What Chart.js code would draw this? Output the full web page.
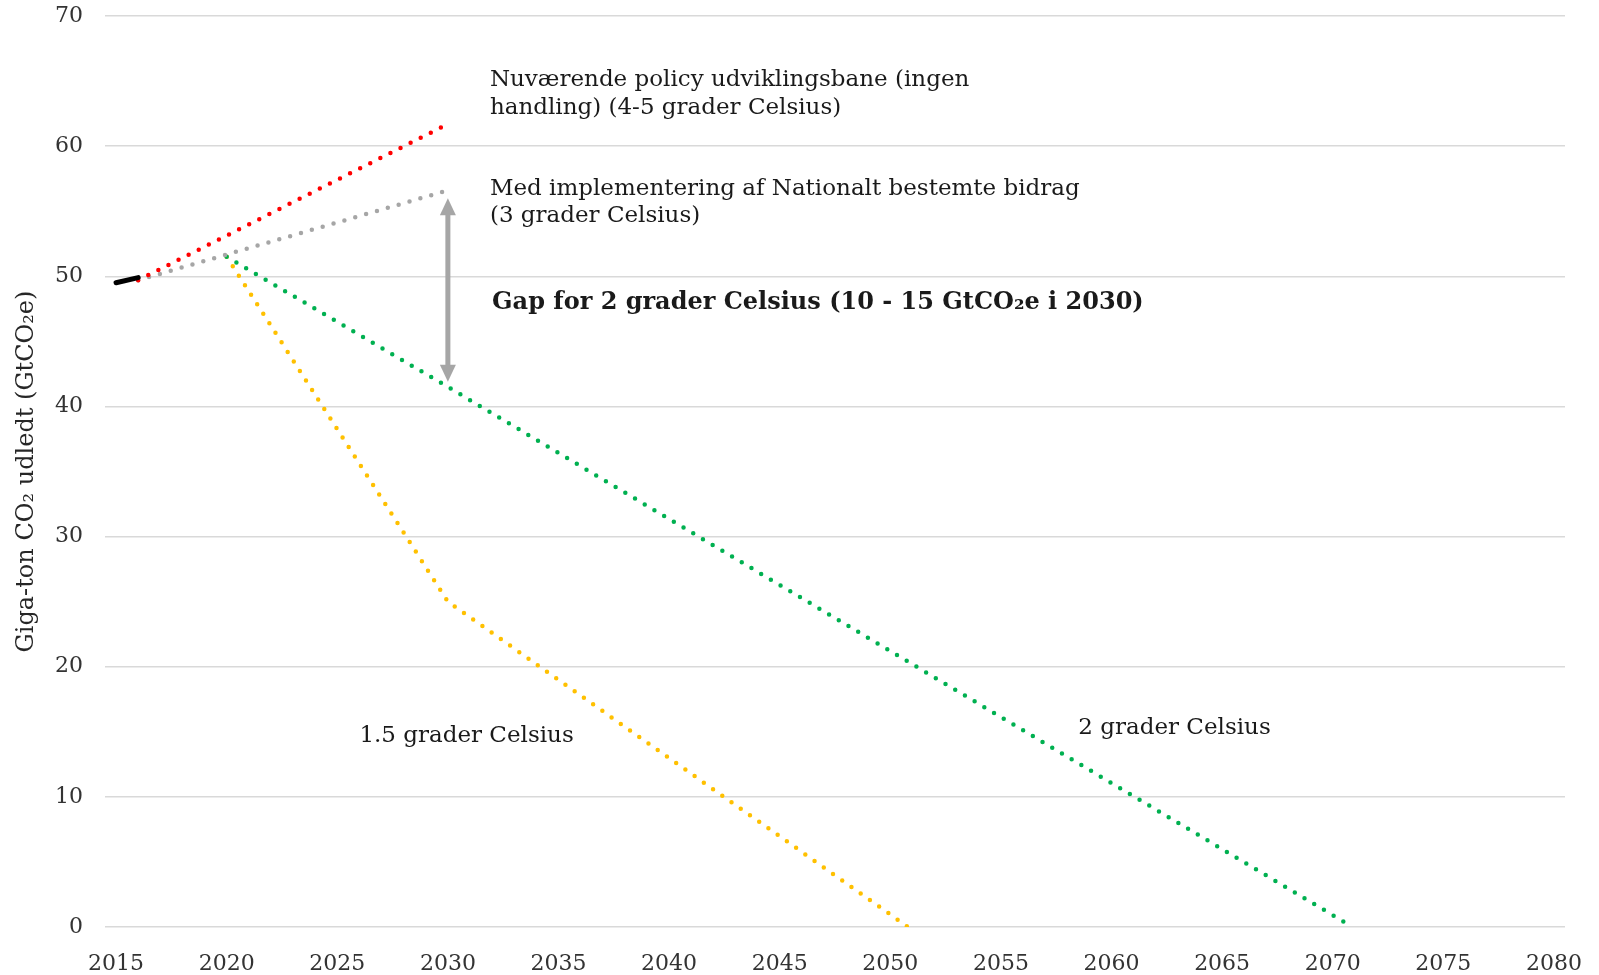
<!DOCTYPE html>
<html>
<head>
<meta charset="utf-8">
<script src="https://cdn.jsdelivr.net/npm/chart.js@4.4.1/dist/chart.umd.min.js"></script>
<style>
  body { margin: 0; background: #fff; }
  #wrap { width: 1599px; height: 975px; }
</style>
</head>
<body>
<div id="wrap"><canvas id="chart" width="1599" height="975"></canvas></div>
<script>
// series (year, GtCO2e)
const historyYears = [2015, 2016];
const historyValues = [49.5, 49.9];

const policyYears = [2016, 2030];
const policyValues = [49.7, 61.7];

const ndcYears = [2016, 2030];
const ndcValues = [49.7, 56.6];

const twoDegYears = [2020, 2030, 2070.9];
const twoDegValues = [51.5, 41.5, 0];

const onePointFiveYears = [2020, 2030, 2050.8];
const onePointFiveValues = [51.5, 25, 0];

const yTicks = [0, 10, 20, 30, 40, 50, 60, 70];
const xTickYears = [2015, 2020, 2025, 2030, 2035, 2040, 2045, 2050, 2055, 2060, 2065, 2070, 2075, 2080];

// gap arrow at 2030 between the NDC line and the 2 degree line
const gapYear = 2030;
const gapTop = 56.0;
const gapBottom = 41.9;

// text labels, anchored at (year, value), left aligned
const notes = [
    { text: 'Nuværende policy udviklingsbane (ingen', x: 2031.9, y: 65.1, bold: false },
    { text: 'handling) (4-5 grader Celsius)', x: 2031.9, y: 62.9, bold: false },
    { text: 'Med implementering af Nationalt bestemte bidrag', x: 2031.9, y: 56.7, bold: false },
    { text: '(3 grader Celsius)', x: 2031.9, y: 54.6, bold: false },
    { text: 'Gap for 2 grader Celsius (10 - 15 GtCO₂e i 2030)', x: 2032.0, y: 48.0, bold: true },
    { text: '1.5 grader Celsius', x: 2026.0, y: 14.7, bold: false },
    { text: '2 grader Celsius', x: 2058.5, y: 15.3, bold: false }
];

const FONT = '"DejaVu Serif", "Liberation Serif", serif';

function points(xs, ys) {
    return xs.map((x, i) => ({ x: x, y: ys[i] }));
}

function dotted(label, xs, ys, color) {
    return {
        label: label,
        data: points(xs, ys),
        borderColor: color,
        borderWidth: 4.5,
        borderDash: [0, 11.3],
        borderCapStyle: 'round',
        pointRadius: 0,
        tension: 0,
        fill: false
    };
}

const notesPlugin = {
    id: 'notes',
    afterDatasetsDraw(chart) {
        const ctx = chart.ctx;
        const xs = chart.scales.x;
        const ys = chart.scales.y;

        // double arrow
        const ax = xs.getPixelForValue(gapYear);
        const top = ys.getPixelForValue(gapTop);
        const bot = ys.getPixelForValue(gapBottom);
        const head = 17, half = 8;
        ctx.save();
        ctx.strokeStyle = '#a6a6a6';
        ctx.fillStyle = '#a6a6a6';
        ctx.lineWidth = 5;
        ctx.beginPath();
        ctx.moveTo(ax, top + head - 2);
        ctx.lineTo(ax, bot - head + 2);
        ctx.stroke();
        ctx.beginPath();
        ctx.moveTo(ax, top);
        ctx.lineTo(ax - half, top + head);
        ctx.lineTo(ax + half, top + head);
        ctx.closePath();
        ctx.fill();
        ctx.beginPath();
        ctx.moveTo(ax, bot);
        ctx.lineTo(ax - half, bot - head);
        ctx.lineTo(ax + half, bot - head);
        ctx.closePath();
        ctx.fill();

        // labels
        ctx.fillStyle = '#1a1a1a';
        ctx.textAlign = 'left';
        ctx.textBaseline = 'middle';
        notes.forEach(n => {
            ctx.font = (n.bold ? 'bold 24px ' : '23px ') + FONT;
            ctx.fillText(n.text, xs.getPixelForValue(n.x), ys.getPixelForValue(n.y));
        });
        ctx.restore();
    }
};

const ctx = document.getElementById('chart').getContext('2d');
new Chart(ctx, {
    type: 'line',
    data: {
        datasets: [
            {
                label: 'Historisk',
                data: points(historyYears, historyValues),
                borderColor: '#000000',
                borderWidth: 5,
                borderCapStyle: 'round',
                pointRadius: 0,
                tension: 0
            },
            dotted('Nuværende policy', policyYears, policyValues, '#ff0000'),
            dotted('NDC', ndcYears, ndcValues, '#a6a6a6'),
            dotted('2 grader', twoDegYears, twoDegValues, '#00b050'),
            dotted('1.5 grader', onePointFiveYears, onePointFiveValues, '#ffc000')
        ]
    },
    options: {
        responsive: false,
        animation: false,
        layout: { padding: { top: 0, right: 34, bottom: 0, left: 0 } },
        plugins: {
            legend: { display: false },
            tooltip: { enabled: false }
        },
        scales: {
            x: {
                type: 'linear',
                min: 2014.5,
                max: 2080.5,
                afterBuildTicks: (scale) => { scale.ticks = xTickYears.map(v => ({ value: v })); },
                afterFit: (scale) => { scale.height = 48; },
                grid: { display: false },
                border: { display: false },
                ticks: {
                    padding: 16,
                    color: '#333333',
                    font: { family: FONT, size: 22 },
                    maxRotation: 0,
                    callback: (v) => String(v)
                }
            },
            y: {
                min: 0,
                max: 70,
                afterBuildTicks: (scale) => { scale.ticks = yTicks.map(v => ({ value: v })); },
                afterFit: (scale) => {
                    scale.width = 105;
                    scale.paddingTop = 16;
                },
                grid: { color: '#d9d9d9', lineWidth: 1.5, drawTicks: false },
                border: { display: false },
                ticks: {
                    padding: 22,
                    color: '#333333',
                    font: { family: FONT, size: 22 }
                },
                title: {
                    display: true,
                    text: 'Giga-ton CO₂ udledt (GtCO₂e)',
                    color: '#262626',
                    font: { family: FONT, size: 24 },
                    padding: { top: 12, bottom: 0 }
                }
            }
        }
    },
    plugins: [notesPlugin]
});
</script>
</body>
</html>
